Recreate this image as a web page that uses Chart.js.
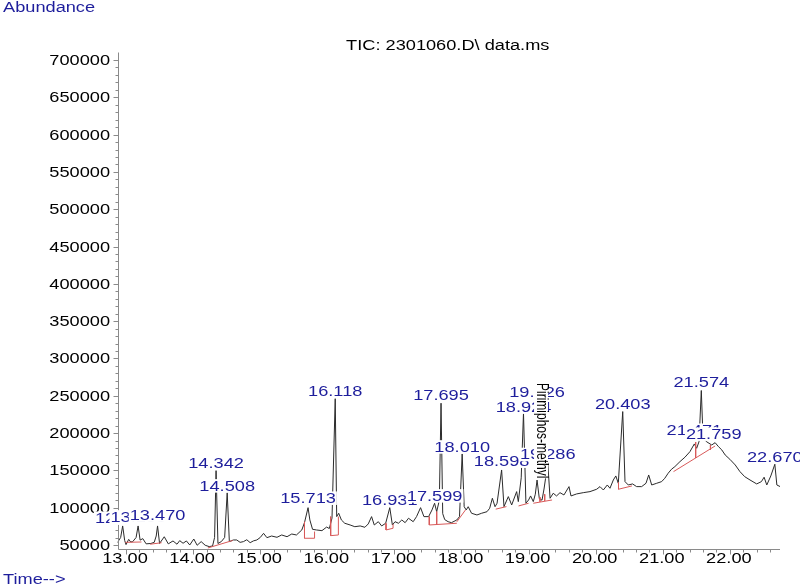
<!DOCTYPE html>
<html>
<head>
<meta charset="utf-8">
<title>TIC: 2301060.D\ data.ms</title>
<script src="https://cdn.jsdelivr.net/npm/chart.js@4.4.1/dist/chart.umd.min.js"></script>
<style>
    html, body { margin: 0; padding: 0; background: #fff; }
    #wrap { width: 800px; height: 587px; }
</style>
</head>
<body>
<div id="wrap"><canvas id="tic" width="800" height="587"></canvas></div>
<script>
// ===================== DATA =====================
const times = [
    12.87, 12.92, 12.95, 12.98, 13.00, 13.04, 13.07, 13.10, 13.15, 13.18, 13.21, 13.25, 13.30, 13.37, 13.42, 13.45, 13.47, 13.50, 13.57, 13.63,
    13.70, 13.76, 13.80, 13.85, 13.90, 13.95, 14.01, 14.06, 14.12, 14.18, 14.24, 14.29, 14.32, 14.342, 14.37, 14.42, 14.47, 14.508, 14.54, 14.60,
    14.65, 14.70, 14.75, 14.80, 14.85, 14.90, 14.95, 15.00, 15.05, 15.10, 15.17, 15.25, 15.32, 15.40, 15.47, 15.54, 15.62, 15.66, 15.713, 15.74,
    15.78, 15.84, 15.92, 15.99, 16.03, 16.07, 16.118, 16.14, 16.17, 16.21, 16.26, 16.34, 16.41, 16.49, 16.56, 16.61, 16.66, 16.70, 16.76, 16.81,
    16.87, 16.931, 16.97, 17.01, 17.06, 17.11, 17.16, 17.21, 17.28, 17.33, 17.39, 17.44, 17.51, 17.56, 17.599, 17.63, 17.67, 17.695, 17.72, 17.75,
    17.80, 17.85, 17.93, 17.97, 18.010, 18.04, 18.07, 18.10, 18.15, 18.23, 18.30, 18.38, 18.42, 18.46, 18.50, 18.53, 18.598, 18.633, 18.698, 18.748,
    18.822, 18.847, 18.89, 18.924, 18.96, 19.00, 19.03, 19.07, 19.10, 19.126, 19.16, 19.20, 19.23, 19.286, 19.32, 19.367, 19.417, 19.468, 19.527, 19.602,
    19.632, 19.716, 19.815, 19.915, 20.015, 20.064, 20.114, 20.173, 20.213, 20.263, 20.30, 20.337, 20.403, 20.437, 20.486, 20.55, 20.61, 20.685, 20.75, 20.79,
    20.835, 20.91, 20.983, 21.03, 21.08, 21.13, 21.18, 21.256, 21.33, 21.405, 21.47, 21.505, 21.54, 21.574, 21.60, 21.65, 21.73, 21.78, 21.83, 21.88,
    21.93, 22.00, 22.08, 22.15, 22.22, 22.30, 22.40, 22.47, 22.51, 22.55, 22.61, 22.670, 22.70, 22.75
];
const abundance = [
    53000, 60000, 75500, 56000, 50500, 57500, 54000, 54500, 60000, 75500, 56500, 58500, 51500, 52000, 53500, 62000, 75500, 52000, 61000, 51500,
    55400, 51000, 55800, 52300, 55400, 50000, 58000, 49600, 54500, 49600, 47800, 48700, 60000, 149600, 52000, 54500, 60000, 120000, 54500, 56700,
    56700, 53500, 54500, 57000, 53100, 55500, 56700, 60000, 65600, 59800, 62000, 60300, 63400, 61100, 64700, 63400, 70100, 79900, 100000, 83500,
    71000, 70100, 69200, 74000, 72000, 86000, 246000, 88000, 92500, 83500, 79100, 76800, 74500, 75500, 73700, 78200, 88000, 76800, 81200, 75500,
    79100, 100000, 76800, 81200, 79100, 83500, 79900, 85800, 81200, 88000, 100000, 88000, 88000, 96900, 105900, 94600, 110000, 240000, 92000, 84000,
    81200, 79900, 83500, 88000, 172000, 101300, 96900, 101300, 92500, 90200, 92500, 94600, 99200, 112600, 101300, 105900, 150500, 101400, 114800, 103600,
    121500, 108100, 140000, 227000, 105900, 110300, 115700, 108100, 118000, 137000, 112000, 110000, 125000, 160000, 112600, 119300, 115700, 120100, 117000, 128200,
    115700, 118400, 120100, 121500, 124700, 128200, 123700, 130400, 126000, 137100, 142500, 132700, 229000, 134900, 130400, 131800, 128200, 128200, 132700, 143800,
    130400, 132700, 134900, 139400, 146100, 151500, 155000, 161700, 167600, 175100, 185400, 179600, 188500, 257000, 193000, 188500, 184000, 187100, 181800, 177300,
    170600, 164800, 157200, 148300, 141600, 137100, 131800, 134900, 140800, 130400, 142500, 158200, 130400, 128200
];

// integration baselines (null = break between segments)
const baseT = [
    12.99, 13.23, 13.23,
    13.36, 13.53, 13.53,
    14.22, 14.59, 14.59,
    15.66, 15.66, 15.81, 15.81, 15.81,
    16.05, 16.05, 16.165, 16.165, 16.165,
    16.875, 16.875, 16.98, 16.98, 16.98,
    17.52, 17.52, 17.93, 17.93,
    17.63, 17.63, 17.63,
    17.93, 18.06, 18.06,
    18.51, 18.67, 18.67,
    18.85, 19.00, 19.00,
    19.07, 19.35, 19.35,
    19.17, 19.17, 19.17,
    19.24, 19.24, 19.24,
    20.34, 20.34, 20.54, 20.54,
    21.16, 21.78, 21.78,
    21.49, 21.49, 21.49,
    21.71, 21.71
];
const baseV = [
    53500, 54000, null,
    51000, 53000, null,
    46000, 56000, null,
    81000, 59000, 59000, 68000, null,
    88000, 62500, 63400, 88000, null,
    79000, 70100, 72400, 78000, null,
    88000, 76800, 79100, null,
    94600, 77400, null,
    81000, 97000, null,
    98000, 101400, null,
    102300, 105900, null,
    105900, 110300, null,
    114000, 107900, null,
    118000, 109000, null,
    134000, 124700, 129100, null,
    148300, 182700, null,
    188000, 166600, null,
    184000, 177600
];

const peakTimes = [12.952, 13.183, 13.470, 14.342, 14.508, 15.713, 16.118, 16.931, 17.599, 17.695,
                   18.010, 18.598, 18.924, 19.126, 19.286, 20.403, 21.471, 21.574, 21.759, 22.670];
const labelLevels = [75500, 77200, 79500, 149200, 118800, 102300, 245700, 99600, 105400, 240400,
                     171000, 151900, 224300, 244000, 160900, 227900, 193400, 257400, 188100, 157600];
const compoundTime = 19.126;
const compoundName = "Pirimiphos-methyl";

const xTicks = [13, 14, 15, 16, 17, 18, 19, 20, 21, 22];
const xTickLabels = ["13.00", "14.00", "15.00", "16.00", "17.00", "18.00", "19.00", "20.00", "21.00", "22.00"];
const yTicks = [50000, 100000, 150000, 200000, 250000, 300000, 350000, 400000, 450000, 500000, 550000, 600000, 650000, 700000];
const yTickLabels = yTicks.map(v => String(v));

// ===================== DRAWING =====================
const STRETCH = 1.3;
const FONT = "'Liberation Sans', Arial, sans-serif";
const BLUE = "#1e1e9c";
const AXIS = "#8a8a8a";

function wideText(ctx, text, x, y, align, size, color, bg) {
    ctx.save();
    ctx.font = size + "px " + FONT;
    const w = ctx.measureText(text).width * STRETCH;
    let left = x;
    if (align === "center") left = x - w / 2;
    else if (align === "right") left = x - w;
    if (bg) {
        ctx.fillStyle = "#fff";
        ctx.fillRect(left - 1, y - size * 0.75 - 1, w + 2, size * 0.75 + 3);
    }
    ctx.translate(left, y);
    ctx.scale(STRETCH, 1);
    ctx.fillStyle = color;
    ctx.textAlign = "left";
    ctx.textBaseline = "alphabetic";
    ctx.fillText(text, 0, 0);
    ctx.restore();
}

const frame = {
    id: "frame",
    afterDatasetsDraw(chart) {
        const ctx = chart.ctx;
        const xs = chart.scales.x, ys = chart.scales.y;
        const a = chart.chartArea;
        const ax = Math.round(a.left) + 0.5;
        const ay = Math.round(a.bottom) + 0.5;

        ctx.save();
        ctx.strokeStyle = AXIS;
        ctx.lineWidth = 1;
        ctx.beginPath();
        ctx.moveTo(ax, a.top);
        ctx.lineTo(ax, ay);
        ctx.lineTo(a.right, ay);

        // x ticks: major every minute, minor every 0.2
        for (let k = 65; k <= 113; k++) {
            const px = Math.round(xs.getPixelForValue(k / 5)) + 0.5;
            ctx.moveTo(px, ay);
            ctx.lineTo(px, ay + (k % 5 === 0 ? 5 : 3));
        }
        // y ticks: major every 50000, minor every 10000
        for (let k = 5; k <= 70; k++) {
            const py = Math.round(ys.getPixelForValue(k * 10000)) + 0.5;
            ctx.moveTo(ax, py);
            ctx.lineTo(ax - (k % 5 === 0 ? 5 : 3), py);
        }
        ctx.stroke();
        ctx.restore();

        xTicks.forEach((t, i) => {
            wideText(ctx, xTickLabels[i], xs.getPixelForValue(t) - 1, 563, "center", 14, "#000");
        });
        yTicks.forEach((v, i) => {
            wideText(ctx, yTickLabels[i], 110, ys.getPixelForValue(v) + 5, "right", 14, "#000");
        });

        wideText(ctx, "TIC: 2301060.D\\ data.ms", (a.left + a.right) / 2 - 1, 50, "center", 14, "#000");
        wideText(ctx, "Abundance", 3, 12, "left", 14, BLUE);
        wideText(ctx, "Time-->", 3, 584, "left", 14, BLUE);

        peakTimes.forEach((t, i) => {
            wideText(ctx, t.toFixed(3), xs.getPixelForValue(t), ys.getPixelForValue(labelLevels[i]) - 3,
                     "center", 14, BLUE, true);
        });

        // compound name, vertical, reading downwards
        ctx.save();
        ctx.font = "12px " + FONT;
        const len = ctx.measureText(compoundName).width;
        const cx = xs.getPixelForValue(compoundTime) + 4;
        const top = 383;
        ctx.fillStyle = "#fff";
        ctx.fillRect(cx - 7, top, 14, len);
        ctx.translate(cx, top);
        ctx.scale(STRETCH, 1);
        ctx.rotate(Math.PI / 2);
        ctx.fillStyle = "#000";
        ctx.textAlign = "left";
        ctx.textBaseline = "middle";
        ctx.fillText(compoundName, 0, 0);
        ctx.restore();
    }
};

new Chart(document.getElementById("tic"), {
    type: "line",
    data: {
        datasets: [
            {
                data: baseT.map((t, i) => ({ x: t, y: baseV[i] })),
                borderColor: "#d85a5a",
                borderWidth: 1,
                pointRadius: 0,
                tension: 0,
                spanGaps: false
            },
            {
                data: times.map((t, i) => ({ x: t, y: abundance[i] })),
                borderColor: "#2b2b2b",
                borderWidth: 1,
                pointRadius: 0,
                tension: 0
            }
        ]
    },
    options: {
        responsive: false,
        animation: false,
        events: [],
        layout: { padding: { left: 117.5, right: 20, top: 52.5, bottom: 38 } },
        plugins: { legend: { display: false }, tooltip: { enabled: false } },
        scales: {
            x: { type: "linear", min: 12.873, max: 22.747, display: false },
            y: { type: "linear", min: 44600, max: 710000, display: false }
        }
    },
    plugins: [frame]
});
</script>
</body>
</html>
